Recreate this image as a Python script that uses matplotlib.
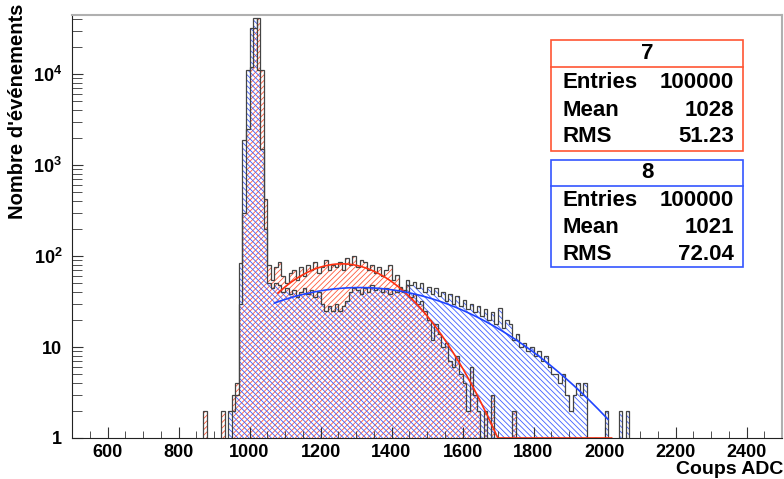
import numpy as np
import matplotlib

matplotlib.use("Agg")
import matplotlib.pyplot as plt
from matplotlib.patches import Rectangle
from matplotlib.ticker import FixedLocator, MultipleLocator, NullFormatter

plt.rcParams["font.family"] = ["Liberation Sans", "DejaVu Sans"]
plt.rcParams["font.weight"] = "bold"
plt.rcParams["mathtext.fontset"] = "custom"
plt.rcParams["mathtext.rm"] = "Liberation Sans:bold"
plt.rcParams["mathtext.bf"] = "Liberation Sans:bold"
plt.rcParams["mathtext.default"] = "bf"
plt.rcParams["hatch.linewidth"] = 0.6

# histogram binning: 10 ADC per bin, data from 860 to 2080
bin_start = 860
bin_width = 10

# histo "7" (red)
counts_7 = [
    0, 2, 0, 0, 0, 0, 2, 0, 0, 3,
    4, 30, 300, 2500, 12000, 32000, 41000, 11000, 420, 80,
    55, 75, 85, 60, 50, 65, 70, 55, 75, 60,
    80, 70, 85, 65, 75, 90, 70, 80, 75, 85,
    70, 95, 80, 100, 75, 90, 85, 70, 80, 65,
    75, 60, 70, 80, 55, 62, 45, 40, 48, 35,
    38, 30, 32, 25, 20, 12, 18, 14, 10, 11,
    7, 6, 8, 5, 4, 2, 6, 3, 2, 1,
    2, 1, 3, 1, 0, 0, 0, 0, 2, 0,
    0, 0, 0, 0, 0, 0, 0, 0, 0, 0,
    0, 0, 0, 0, 0, 0, 0, 0, 0, 0,
    0, 0, 0, 0, 0, 0, 0, 0, 0, 0,
    0, 0,
]

# histo "8" (blue)
counts_8 = [
    0, 0, 0, 0, 0, 0, 0, 0, 2, 2,
    3, 84, 1880, 11000, 32000, 41000, 11000, 1500, 200, 50,
    45, 50, 48, 40, 45, 38, 42, 35, 40, 45,
    38, 42, 35, 40, 30, 25, 28, 25, 30, 25,
    28, 32, 40, 45, 42, 38, 45, 40, 48, 42,
    45, 40, 44, 38, 42, 40, 46, 42, 55, 48,
    52, 44, 50, 40, 46, 38, 44, 36, 40, 32,
    38, 30, 36, 28, 33, 26, 30, 24, 28, 22,
    26, 20, 24, 18, 27, 16, 20, 18, 12, 14,
    10, 11, 9, 10, 8, 9, 7, 8, 6, 5,
    5, 4, 5, 3, 2, 3, 4, 3, 4, 1,
    0, 1, 0, 0, 2, 0, 0, 0, 2, 0,
    2, 0,
]

# gaussian fits (constant, mean, sigma, range)
fit_7 = (82.0, 1260.0, 148.0, 1080.0, 2020.0)
fit_8 = (45.0, 1310.0, 271.0, 1070.0, 2010.0)

stats_7 = ("7", "100000", "1028", "51.23")
stats_8 = ("8", "100000", "1021", "72.04")

RED = "#ff5a3a"
BLUE = "#4060ff"

W, H = 784, 479
fig = plt.figure(figsize=(W / 100, H / 100), dpi=100)
ax = fig.add_axes([72 / W, 1 - 438 / H, 710 / W, 423 / H])

edges = bin_start + bin_width * np.arange(len(counts_7) + 1)
floor = 0.5  # empty bins drawn under the axis
h7 = np.maximum(np.array(counts_7, dtype=float), floor)
h8 = np.maximum(np.array(counts_8, dtype=float), floor)

ax.stairs(h7, edges, baseline=floor, fill=True, facecolor="none",
          edgecolor=RED, hatch="//////", linewidth=0)
ax.stairs(h8, edges, baseline=floor, fill=True, facecolor="none",
          edgecolor=BLUE, hatch="\\" * 6, linewidth=0)
ax.stairs(h7, edges, baseline=floor, color="#444444", linewidth=0.9)
ax.stairs(h8, edges, baseline=floor, color="#444444", linewidth=0.9)

for fit, col in ((fit_7, "#ff3010"), (fit_8, "#1f44ff")):
    amp, mu, sig, lo, hi = fit
    xf = np.linspace(lo, hi, 400)
    yf = amp * np.exp(-0.5 * ((xf - mu) / sig) ** 2)
    ax.plot(xf, np.maximum(yf, 1.0), color=col, linewidth=1.2, clip_on=False)

ax.set_yscale("log")
ax.set_xlim(500, 2500)
ax.set_ylim(1, 10 ** (423 / 91.0))

ax.xaxis.set_major_locator(MultipleLocator(200))
ax.xaxis.set_minor_locator(MultipleLocator(50))
ax.set_xticks([600, 800, 1000, 1200, 1400, 1600, 1800, 2000, 2200, 2400])
ax.yaxis.set_major_locator(FixedLocator([1, 10, 100, 1000, 10000]))
ax.set_yticklabels(["1", "10", r"10$^{2}$", r"10$^{3}$", r"10$^{4}$"])
minor_y = [m * 10 ** d for d in range(0, 5) for m in range(2, 10)]
ax.yaxis.set_minor_locator(FixedLocator(minor_y))
ax.yaxis.set_minor_formatter(NullFormatter())

ax.tick_params(axis="both", which="both", direction="in", color="#333333",
               top=False, right=False, labelsize=13)
ax.tick_params(axis="x", which="major", length=8, pad=4)
ax.tick_params(axis="x", which="minor", length=5)
ax.tick_params(axis="y", which="major", length=8, pad=7)
ax.tick_params(axis="y", which="minor", length=7)
for lab in ax.get_xticklabels() + ax.get_yticklabels():
    lab.set_fontweight("bold")

ax.spines["left"].set_color("#222222")
ax.spines["bottom"].set_color("#222222")
ax.spines["top"].set_color("#b0b0b0")
ax.spines["right"].set_color("#b0b0b0")
ax.spines["top"].set_linewidth(1.5)
ax.spines["right"].set_linewidth(1.5)

fig.text(18 / W, 1 - 4 / H, "Nombre d'événements", rotation=90,
         ha="center", va="top", fontsize=14.5, fontweight="bold")
fig.text(783 / W, 1 - 470 / H, "Coups ADC", ha="right", va="center",
         fontsize=14, fontweight="bold")


def stat_box(y_top, y_sep, y_bot, rows_y, stats, col):
    x0, x1 = 551, 743
    fig.patches.append(Rectangle((x0 / W, 1 - y_bot / H), (x1 - x0) / W,
                                 (y_bot - y_top) / H, transform=fig.transFigure,
                                 facecolor="white", edgecolor=col, linewidth=1.2,
                                 zorder=5))
    fig.add_artist(plt.Line2D([x0 / W, x1 / W], [1 - y_sep / H] * 2,
                              transform=fig.transFigure, color=col,
                              linewidth=1.2, zorder=6))
    title, entries, mean, rms = stats
    fig.text((x0 + x1) / 2 / W, 1 - (y_top + y_sep) / 2 / H, title,
             ha="center", va="center", fontsize=16, fontweight="bold", zorder=7)
    for name, val, yy in zip(["Entries", "Mean", "RMS"], [entries, mean, rms], rows_y):
        fig.text(562 / W, 1 - yy / H, name, ha="left", va="center",
                 fontsize=16, fontweight="bold", zorder=7)
        fig.text(734 / W, 1 - yy / H, val, ha="right", va="center",
                 fontsize=16, fontweight="bold", zorder=7)


stat_box(40, 67, 151, [82, 110, 137], stats_7, "#ff5533")
stat_box(160, 186, 267, [201, 228, 254], stats_8, "#3355ff")

fig.savefig("out.png", dpi=100)
